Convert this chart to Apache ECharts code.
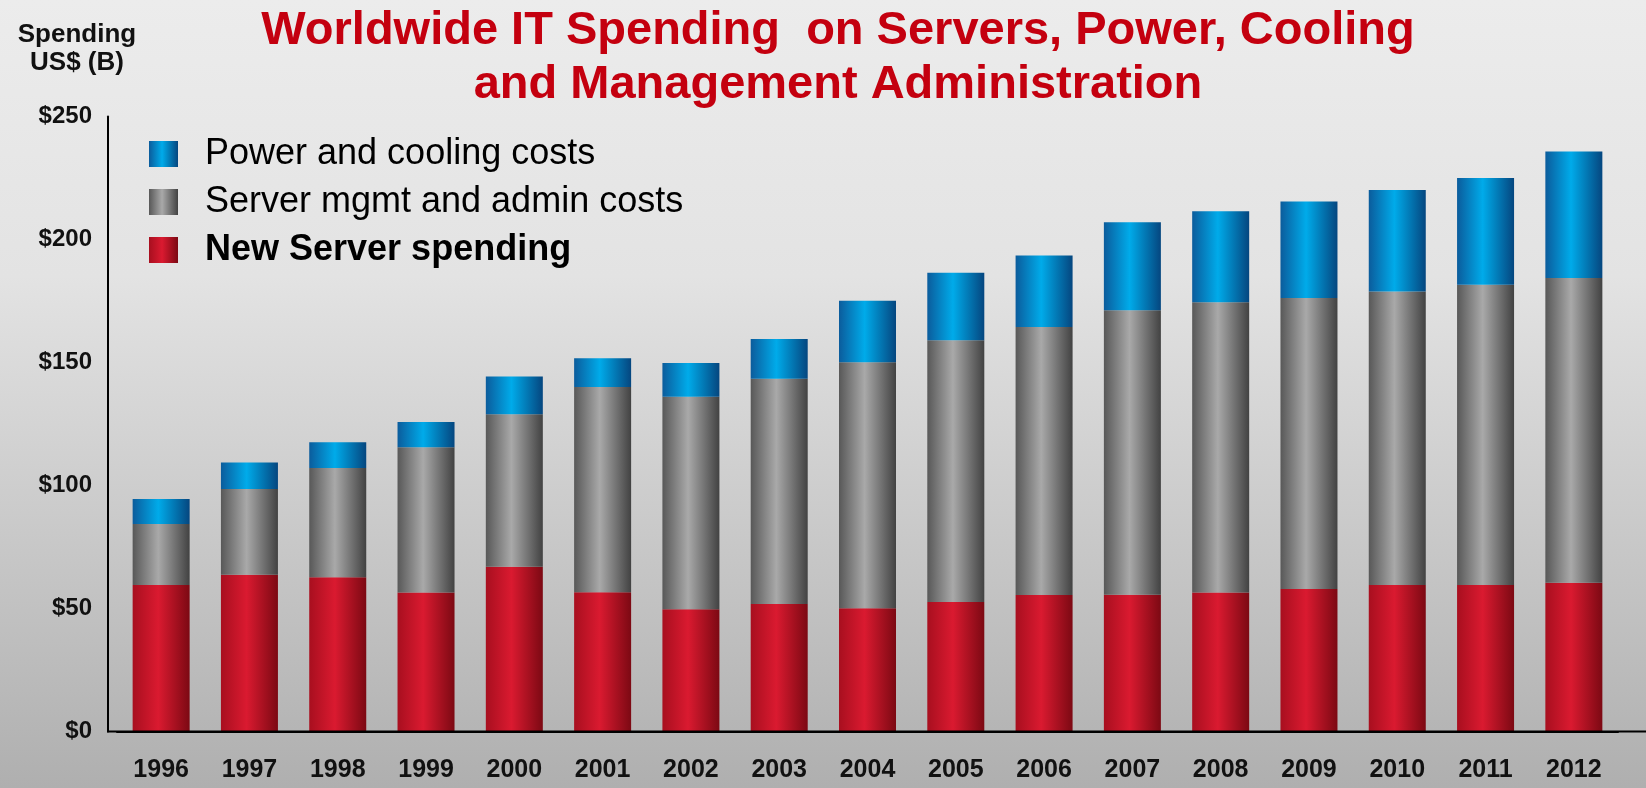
<!DOCTYPE html>
<html>
<head>
<meta charset="utf-8">
<script src="https://cdn.jsdelivr.net/npm/echarts@6/dist/echarts.min.js"></script>
<style>
html,body{margin:0;padding:0;}
#c{width:1646px;height:788px;background:linear-gradient(to bottom,#ececec 0%,#e3e3e3 35%,#afafaf 100%);}
</style>
</head>
<body>
<div id="c"></div>
<script>
// ---- data (US$ billions) ----
const years = ['1996','1997','1998','1999','2000','2001','2002','2003','2004','2005','2006','2007','2008','2009','2010','2011','2012'];
const newServer    = [59.6, 63.7, 62.7, 56.5, 67.0, 56.6, 49.7, 51.8, 50.1, 52.6, 55.5, 55.6, 56.5, 57.9, 59.6, 59.6, 60.5];
const mgmtAdmin    = [24.7, 34.9, 44.4, 59.0, 62.0, 83.4, 86.4, 91.6, 100.0, 106.4, 108.9, 115.6, 118.0, 118.3, 119.3, 122.0, 123.8];
const powerCooling = [10.2, 10.7, 10.5, 10.3, 15.3, 11.7, 13.7, 16.2, 25.0, 27.5, 29.1, 35.8, 37.0, 39.2, 41.2, 43.4, 51.5];
const seriesNames  = ['New Server spending', 'Server mgmt and admin costs', 'Power and cooling costs'];
const titleLines   = ['Worldwide IT Spending  on Servers, Power, Cooling', 'and Management Administration'];
const axisNameLines = ['Spending', 'US$ (B)'];

const FONT = '"Liberation Sans", Arial, Helvetica, sans-serif';

function hGrad(c0, c1, c2) {
  return new echarts.graphic.LinearGradient(0, 0, 1, 0, [
    {offset: 0, color: c0},
    {offset: 0.45, color: c1},
    {offset: 1, color: c2}
  ]);
}
const redFill  = hGrad('#a80f1f', '#da1a30', '#7c0913');
const grayFill = hGrad('#585858', '#a9a9a9', '#424242');
const blueFill = hGrad('#0b5c9c', '#00abea', '#05467f');

const chart = echarts.init(document.getElementById('c'), null, {renderer: 'canvas'});

chart.setOption({
  backgroundColor: 'transparent',
  animation: false,
  textStyle: {fontFamily: FONT},
  grid: {left: 117, right: 28, top: 116.5, bottom: 56.5, containLabel: false},
  legend: {
    orient: 'vertical',
    left: 144,
    top: 131,
    itemWidth: 29,
    itemHeight: 26,
    itemGap: 12,
    selectedMode: false,
    icon: 'rect',
    textStyle: {fontSize: 36, color: '#000', fontFamily: FONT, padding: [0, 0, 0, 22]},
    data: [
      {name: seriesNames[2]},
      {name: seriesNames[1]},
      {name: seriesNames[0], textStyle: {fontWeight: 'bold'}}
    ]
  },
  xAxis: {
    type: 'category',
    data: years,
    axisLine: {show: true, lineStyle: {color: '#000', width: 2}},
    axisTick: {show: false},
    axisLabel: {margin: 26, fontSize: 25, fontWeight: 'bold', color: '#111', fontFamily: FONT}
  },
  yAxis: {
    type: 'value',
    min: 0, max: 250, interval: 50,
    offset: 9,
    axisLine: {show: true, lineStyle: {color: '#000', width: 2}},
    axisTick: {show: false},
    splitLine: {show: false},
    axisLabel: {margin: 16, fontSize: 24, fontWeight: 'bold', color: '#111', fontFamily: FONT, formatter: '${value}'}
  },
  series: [
    {name: seriesNames[0], type: 'bar', stack: 'total', barWidth: 57, data: newServer, itemStyle: {color: redFill}},
    {name: seriesNames[1], type: 'bar', stack: 'total', barWidth: 57, data: mgmtAdmin, itemStyle: {color: grayFill}},
    {name: seriesNames[2], type: 'bar', stack: 'total', barWidth: 57, data: powerCooling, itemStyle: {color: blueFill}}
  ],
  graphic: [
    {type: 'text', z: 10, style: {x: 838, y: 31, text: titleLines[0], textAlign: 'center', textVerticalAlign: 'middle', font: 'bold 47px ' + FONT, fill: '#c4000f'}},
    {type: 'text', z: 10, style: {x: 838, y: 85, text: titleLines[1], textAlign: 'center', textVerticalAlign: 'middle', font: 'bold 47px ' + FONT, fill: '#c4000f'}},
    {type: 'text', z: 10, style: {x: 77, y: 35, text: axisNameLines[0], textAlign: 'center', textVerticalAlign: 'middle', font: 'bold 26px ' + FONT, fill: '#111'}},
    {type: 'text', z: 10, style: {x: 77, y: 63, text: axisNameLines[1], textAlign: 'center', textVerticalAlign: 'middle', font: 'bold 26px ' + FONT, fill: '#111'}},
    {type: 'line', z: 10, shape: {x1: 107, y1: 731.5, x2: 1646, y2: 731.5}, style: {stroke: '#000', lineWidth: 2}}
  ]
});
</script>
</body>
</html>
